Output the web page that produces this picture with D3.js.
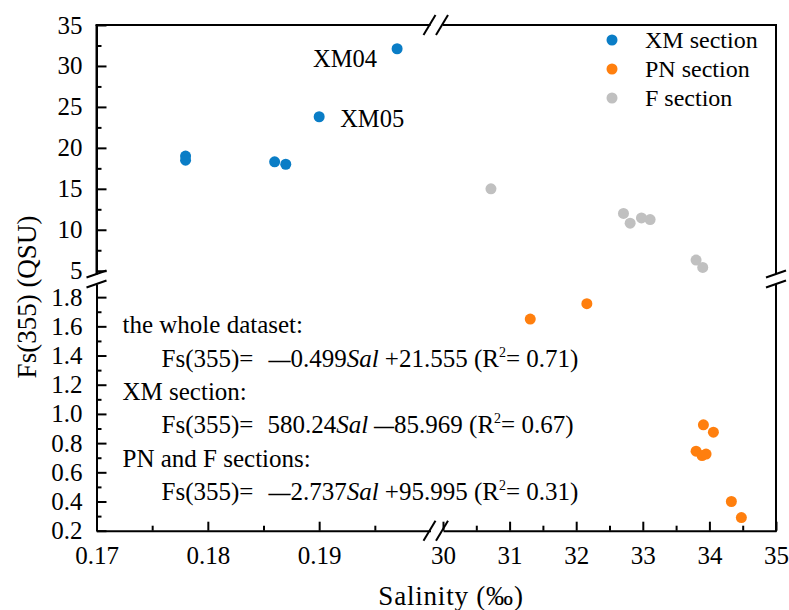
<!DOCTYPE html>
<html>
<head>
<meta charset="utf-8">
<script src="https://cdn.jsdelivr.net/npm/d3@7/dist/d3.min.js"></script>
<style>
  html, body { margin: 0; padding: 0; background: #fff; }
  svg text { font-family: "Liberation Serif", "Times New Roman", serif !important; fill: #000; }
</style>
</head>
<body>
<svg id="chart" width="789" height="610"></svg>
<script>
// ---------- data ----------
const xmSal = [0.178, 0.178, 0.186, 0.187, 0.190, 0.197];
const xmFs  = [19.0, 18.5, 18.3, 18.0, 23.8, 32.1];
const pnSal = [31.31, 32.16, 33.91, 34.06, 33.80, 33.89, 33.95, 34.33, 34.48];
const pnFs  = [1.65, 1.755, 0.925, 0.875, 0.745, 0.715, 0.725, 0.40, 0.29];
const fSal  = [30.72, 32.71, 32.81, 32.98, 33.11, 33.80, 33.90];
const fFs   = [15.0, 12.0, 10.8, 11.45, 11.25, 6.3, 5.4];

const seriesNames  = ["XM section", "PN section", "F section"];
const seriesColors = ["#0a7dc6", "#ff7f0e", "#c0c0c0"];

const xLeftTicks   = [0.17, 0.18, 0.19];
const xLeftMinor   = [0.175, 0.185, 0.195];
const xRightTicks  = [30, 31, 32, 33, 34, 35];
const xRightMinor  = [30.5, 31.5, 32.5, 33.5, 34.5];
const yUpTicks     = [5, 10, 15, 20, 25, 30, 35];
const yUpMinor     = [7.5, 12.5, 17.5, 22.5, 27.5, 32.5];
const yLowTicks    = [0.2, 0.4, 0.6, 0.8, 1.0, 1.2, 1.4, 1.6, 1.8];
const yLowMinor    = [0.3, 0.5, 0.7, 0.9, 1.1, 1.3, 1.5, 1.7];

const pointLabels = [
  {text: "XM04", sal: 0.197, fs: 32.1},
  {text: "XM05", sal: 0.190, fs: 23.8}
];

const eqLines = [
  {kind: "head", text: "the whole dataset:"},
  {kind: "eq", neg1: true,  c1: "0.499",  s2: "+", c2: "21.555 (R", r2: "= 0.71)"},
  {kind: "head", text: "XM section:"},
  {kind: "eq", neg1: false, c1: "580.24", s2: "\u2014", c2: "85.969 (R", r2: "= 0.67)"},
  {kind: "head", text: "PN and F sections:"},
  {kind: "eq", neg1: true,  c1: "2.737",  s2: "+", c2: "95.995 (R", r2: "= 0.31)"}
];

// ---------- layout ----------
const L = 96.5, R = 776, T = 25, B = 530.7;
const xBreakL = 430.5, xBreakR = 443;
const yBreakT = 274, yBreakB = 284;

const xLeft  = d3.scaleLinear().domain([0.17, 0.2]).range([L, xBreakL]);
const xRight = d3.scaleLinear().domain([30, 35]).range([xBreakR, R]);
const yUp    = d3.scaleLinear().domain([4.6, 35]).range([yBreakT, T]);
const yLow   = d3.scaleLinear().domain([0.2, 1.89]).range([B, yBreakB]);
const X = v => v < 1 ? xLeft(v) : xRight(v);
const Y = v => v > 2.5 ? yUp(v) : yLow(v);

const svg = d3.select("#chart");
const tickFont = 25;

function styleAxis(g) {
  g.attr("font-family", null).attr("font-size", null);
  g.selectAll("path.domain").attr("stroke", "#000").attr("stroke-width", 2);
  g.selectAll(".tick line").attr("stroke", "#000").attr("stroke-width", 2);
  g.selectAll("text").attr("font-size", tickFont);
}

// Y axes (left)
const gYUp = svg.append("g").attr("transform", `translate(${L},0)`)
  .call(d3.axisLeft(yUp).tickValues(yUpTicks).tickFormat(d3.format("d"))
        .tickSizeInner(-10).tickSizeOuter(0).tickPadding(14));
styleAxis(gYUp);
const gYUpM = svg.append("g").attr("transform", `translate(${L},0)`)
  .call(d3.axisLeft(yUp).tickValues(yUpMinor).tickFormat("").tickSizeInner(-5).tickSizeOuter(0));
styleAxis(gYUpM); gYUpM.select("path.domain").remove();

const gYLow = svg.append("g").attr("transform", `translate(${L},0)`)
  .call(d3.axisLeft(yLow).tickValues(yLowTicks).tickFormat(d3.format(".1f"))
        .tickSizeInner(-10).tickSizeOuter(0).tickPadding(14));
styleAxis(gYLow);
const gYLowM = svg.append("g").attr("transform", `translate(${L},0)`)
  .call(d3.axisLeft(yLow).tickValues(yLowMinor).tickFormat("").tickSizeInner(-5).tickSizeOuter(0));
styleAxis(gYLowM); gYLowM.select("path.domain").remove();

// X axes (bottom)
const gXL = svg.append("g").attr("transform", `translate(0,${B})`)
  .call(d3.axisBottom(xLeft).tickValues(xLeftTicks).tickFormat(d3.format(".2f"))
        .tickSizeInner(-9).tickSizeOuter(0).tickPadding(16));
styleAxis(gXL);
const gXLM = svg.append("g").attr("transform", `translate(0,${B})`)
  .call(d3.axisBottom(xLeft).tickValues(xLeftMinor).tickFormat("").tickSizeInner(-5).tickSizeOuter(0));
styleAxis(gXLM); gXLM.select("path.domain").remove();

const gXR = svg.append("g").attr("transform", `translate(0,${B})`)
  .call(d3.axisBottom(xRight).tickValues(xRightTicks).tickFormat(d3.format("d"))
        .tickSizeInner(-9).tickSizeOuter(0).tickPadding(16));
styleAxis(gXR);
const gXRM = svg.append("g").attr("transform", `translate(0,${B})`)
  .call(d3.axisBottom(xRight).tickValues(xRightMinor).tickFormat("").tickSizeInner(-5).tickSizeOuter(0));
styleAxis(gXRM); gXRM.select("path.domain").remove();

// Frame (top & right) with breaks
const frame = svg.append("g").attr("stroke", "#000").attr("stroke-width", 2).attr("fill", "none");
frame.append("line").attr("x1", L - 1).attr("x2", xBreakL).attr("y1", T).attr("y2", T);
frame.append("line").attr("x1", xBreakR).attr("x2", R + 1).attr("y1", T).attr("y2", T);
frame.append("line").attr("x1", R).attr("x2", R).attr("y1", T).attr("y2", yBreakT);
frame.append("line").attr("x1", R).attr("x2", R).attr("y1", yBreakB).attr("y2", B + 1);
frame.append("line").attr("x1", L).attr("x2", L).attr("y1", T).attr("y2", yBreakT);

// Break marks
const brk = svg.append("g").attr("stroke", "#000").attr("stroke-width", 2);
[xBreakL - 1, xBreakR - 1].forEach(cx => {
  [T, B].forEach(cy => {
    brk.append("line").attr("x1", cx - 6).attr("y1", cy + 10).attr("x2", cx + 6).attr("y2", cy - 10);
  });
});
[yBreakT, yBreakB].forEach(cy => {
  [L, R].forEach(cx => {
    brk.append("line").attr("x1", cx - 10).attr("y1", cy + 3.5).attr("x2", cx + 10).attr("y2", cy - 3.5);
  });
});

// Points
const r = 5.5;
function drawSeries(sal, fs, color) {
  svg.append("g").selectAll("circle").data(sal.map((s, i) => [s, fs[i]])).join("circle")
    .attr("cx", d => X(d[0])).attr("cy", d => Y(d[1])).attr("r", r).attr("fill", color);
}
drawSeries(fSal, fFs, seriesColors[2]);
drawSeries(pnSal, pnFs, seriesColors[1]);
drawSeries(xmSal, xmFs, seriesColors[0]);

// Point labels
svg.append("text").attr("x", X(pointLabels[0].sal) - 84).attr("y", Y(pointLabels[0].fs) + 18)
  .attr("font-size", 24.5).text(pointLabels[0].text);
svg.append("text").attr("x", X(pointLabels[1].sal) + 21).attr("y", Y(pointLabels[1].fs) + 10)
  .attr("font-size", 24.5).text(pointLabels[1].text);

// Legend
const leg = svg.append("g");
seriesNames.forEach((n, i) => {
  const cy = 40 + i * 29;
  leg.append("circle").attr("cx", 612).attr("cy", cy).attr("r", r).attr("fill", seriesColors[i]);
  leg.append("text").attr("x", 645).attr("y", cy + 8).attr("font-size", 24).text(n);
});

// Equations
const eqG = svg.append("g").attr("font-size", 25);
const baselines = [333, 366.7, 400, 433, 466.7, 500];
eqLines.forEach((ln, i) => {
  if (ln.kind === "head") {
    eqG.append("text").attr("x", 122.5).attr("y", baselines[i]).text(ln.text);
  } else {
    const t = eqG.append("text").attr("x", 161.5).attr("y", baselines[i]);
    t.append("tspan").text("Fs(355)=");
    if (ln.neg1) {
      t.append("tspan").attr("dx", 15).attr("font-size", 22).attr("font-weight", 700).text("\u2014");
      t.append("tspan").attr("font-size", 25).attr("font-weight", 400).text(ln.c1);
    } else {
      t.append("tspan").attr("dx", 14).text(ln.c1);
    }
    t.append("tspan").attr("font-style", "italic").text("Sal");
    if (ln.s2 === "+") {
      t.append("tspan").attr("font-style", "normal").text(" +" + ln.c2);
    } else {
      t.append("tspan").attr("font-style", "normal").attr("dx", 6).attr("font-size", 20)
        .attr("font-weight", 700).text(ln.s2);
      t.append("tspan").attr("font-size", 25).attr("font-weight", 400).text(ln.c2);
    }
    t.append("tspan").attr("font-size", 14).attr("dy", -10).text("2");
    t.append("tspan").attr("font-size", 25).attr("dy", 10).text(ln.r2);
  }
});

// Axis titles
svg.append("text").attr("x", 451).attr("y", 605).attr("text-anchor", "middle")
  .attr("font-size", 27).attr("letter-spacing", 0.8).text("Salinity (\u2030)");
svg.append("text").attr("transform", "translate(36,297) rotate(-90)").attr("text-anchor", "middle")
  .attr("font-size", 27).text("Fs(355) (QSU)");
</script>
</body>
</html>
